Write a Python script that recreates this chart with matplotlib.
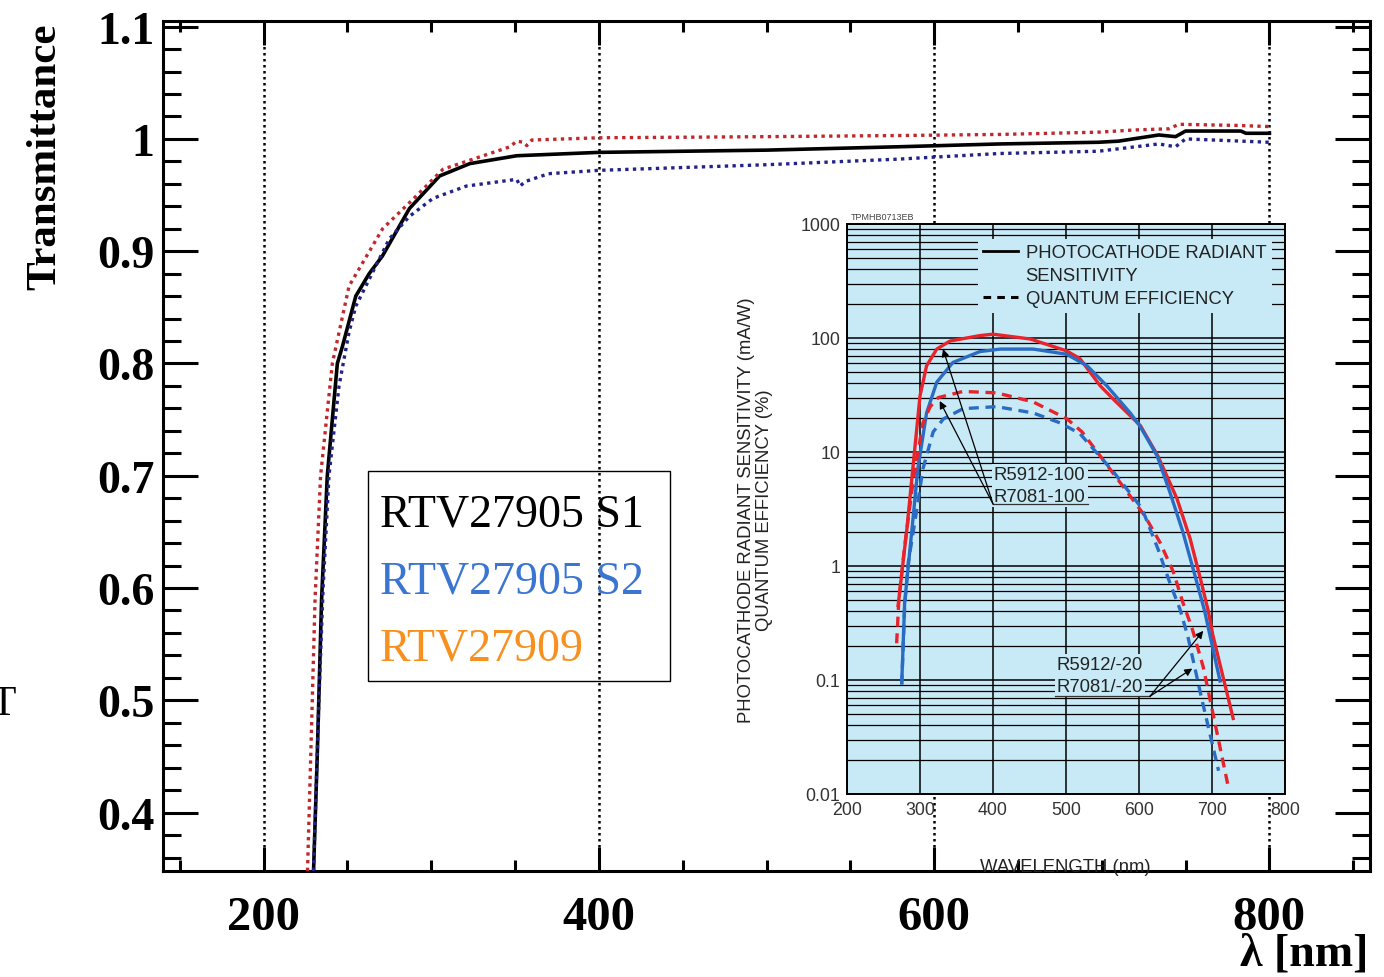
import matplotlib
matplotlib.use("Agg")
import matplotlib.pyplot as plt
from matplotlib.lines import Line2D
from matplotlib.patches import Rectangle
from matplotlib.ticker import MultipleLocator, FixedLocator, FuncFormatter, LogLocator, NullFormatter

# ---- main plot: transmittance curves ----
s1_wl = [229.8, 232, 234.6, 238, 244, 247, 255, 263, 271, 287, 305, 323, 351, 400, 500,
         579, 639, 698, 710, 734, 744, 750, 783, 786, 800]
s1_t = [0.348, 0.45, 0.59, 0.70, 0.80, 0.815, 0.86, 0.88, 0.896, 0.938, 0.967, 0.978, 0.985,
        0.988, 0.990, 0.993, 0.9955, 0.997, 0.998, 1.0035, 1.002, 1.007, 1.007, 1.005, 1.005]

s2_wl = [229.8, 233, 235.5, 239, 245, 251, 255, 275, 287, 301, 321, 351, 353, 356, 370, 400,
         500, 579, 639, 698, 734, 744, 750, 800]
s2_t = [0.348, 0.50, 0.60, 0.70, 0.78, 0.828, 0.851, 0.911, 0.931, 0.947, 0.958, 0.964, 0.958,
        0.962, 0.969, 0.972, 0.977, 0.982, 0.987, 0.989, 0.9955, 0.993, 1.0, 0.997]

rtv09_wl = [226.2, 228.5, 230.7, 234, 241, 251, 271, 291, 307, 331, 347, 351, 355, 357, 360,
            400, 500, 579, 640, 698, 720, 740, 746, 780, 800]
rtv09_t = [0.348, 0.47, 0.59, 0.70, 0.80, 0.869, 0.92, 0.949, 0.973, 0.985, 0.993, 0.998, 0.997,
           0.994, 0.999, 1.001, 1.002, 1.003, 1.004, 1.006, 1.008, 1.009, 1.013, 1.012, 1.011]

legend_labels = ["RTV27905 S1", "RTV27905 S2", "RTV27909"]
legend_colors = ["#000000", "#3a75d2", "#f7901e"]

# ---- inset: Hamamatsu spectral response ----
red_sens_wl = [270, 282, 291, 300, 309, 323, 341, 382, 400, 451, 501, 519, 547, 565, 602, 626,
               652, 670, 684, 695, 701, 729]
red_sens = [0.45, 2.1, 8.1, 31, 57, 80, 94, 105, 108, 98, 77, 66, 38, 29, 17, 9.2,
            3.9, 1.74, 0.78, 0.40, 0.25, 0.046]
blue_sens_wl = [275, 279, 289, 297, 309, 323, 345, 382, 410, 455, 501, 529, 556, 588, 601, 625,
                642, 660, 677, 690, 697, 711]
blue_sens = [0.095, 0.48, 2.1, 7.1, 22, 41, 61, 76, 80, 80, 72, 57, 38, 22, 17, 9.2,
             4.5, 2.0, 0.81, 0.40, 0.25, 0.098]
red_qe_wl = [268, 271, 279, 291, 304, 314, 325, 359, 405, 455, 501, 522, 547, 578, 608, 629,
             647, 660, 673, 688, 701, 722]
red_qe = [0.21, 0.5, 1.5, 5.8, 18, 25, 30, 34, 33, 27.5, 19.6, 15, 9.2, 5.0, 2.75, 1.6,
          0.89, 0.48, 0.28, 0.13, 0.052, 0.0118]
blue_qe_wl = [275, 279, 284, 295, 304, 318, 332, 359, 405, 455, 492, 519, 565, 604, 626, 642,
              656, 667, 686, 709]
blue_qe = [0.091, 0.45, 1.08, 2.95, 7.1, 15, 19.5, 24, 25, 22, 18, 14.5, 6.7, 3.2, 1.41, 0.72,
           0.42, 0.24, 0.068, 0.016]

W, H = 1384, 978
fig = plt.figure(figsize=(W / 100, H / 100), dpi=100)
serif = "Liberation Serif"
sans = "Liberation Sans"

ax = fig.add_axes([163 / W, 1 - 872 / H, 1207 / W, 850 / H])
ax.set_xlim(140, 860)
ax.set_ylim(0.348, 1.105)
ax.plot(s1_wl, s1_t, color="black", lw=2.6, zorder=3)
ax.plot(s2_wl, s2_t, color="#22228a", lw=2.4, ls=(0, (1, 1.3)), zorder=3)
ax.plot(rtv09_wl, rtv09_t, color="#c0282d", lw=2.4, ls=(0, (1, 1.3)), zorder=3)

ax.xaxis.set_major_locator(FixedLocator([200, 400, 600, 800]))
ax.xaxis.set_minor_locator(MultipleLocator(50))
ax.yaxis.set_major_locator(MultipleLocator(0.1))
ax.yaxis.set_minor_locator(MultipleLocator(0.02))
ax.yaxis.set_major_formatter(FuncFormatter(lambda v, p: f"{v:g}"))
ax.grid(axis="x", which="major", color="black", lw=1.8, ls=(0, (1, 1.4)))
ax.tick_params(which="both", direction="in", top=True, right=True, width=2.2)
ax.tick_params(axis="x", which="major", length=17, pad=17, labelsize=35)
ax.tick_params(axis="x", which="minor", length=8)
ax.tick_params(axis="y", which="major", length=25, pad=6, labelsize=33)
ax.tick_params(axis="y", which="minor", length=13)
for lab in ax.get_xticklabels() + ax.get_yticklabels():
    lab.set_fontfamily(serif)
    lab.set_fontweight("bold")
for sp in ax.spines.values():
    sp.set_linewidth(2.2)

# text legend box
ax.add_patch(Rectangle((0.1698, 0.2235), 0.250, 0.247, transform=ax.transAxes,
                       fill=False, ec="black", lw=1.0, zorder=4))
for lab, col, yb in zip(legend_labels, legend_colors, [0.4059, 0.3282, 0.2494]):
    ax.text(0.1798, yb, lab, color=col, transform=ax.transAxes, fontsize=33,
            family=serif, va="baseline", ha="left", zorder=5)

fig.text(45 / W, 1 - 157 / H, "Transmittance", rotation=90, ha="center", va="center",
         fontsize=31, family=serif, fontweight="bold")
fig.text(1368 / W, 1 - 966 / H, "λ [nm]", ha="right", va="baseline",
         fontsize=33, family=serif, fontweight="bold")
fig.text(3 / W, 1 - 705 / H, "T", ha="center", va="center", fontsize=30, family=serif)

# ---- inset ----
bg = "#c8eaf6"
fs_in = 13.3
axi = fig.add_axes([847 / W, 1 - 795 / H, 438 / W, 570 / H], facecolor=bg)
axi.set_yscale("log")
axi.set_xlim(200, 800)
axi.set_ylim(0.01, 1000)
axi.set_xticks(range(200, 801, 100))
axi.yaxis.set_major_locator(LogLocator(base=10, numticks=10))
axi.yaxis.set_minor_locator(LogLocator(base=10, subs=range(2, 10), numticks=50))
axi.yaxis.set_minor_formatter(NullFormatter())
axi.yaxis.set_major_formatter(FuncFormatter(lambda v, p: f"{v:g}"))
axi.grid(which="major", color="black", lw=1.1)
axi.grid(which="minor", axis="y", color="black", lw=0.9)
axi.tick_params(which="both", length=0, labelsize=12.8, labelcolor="#333333", pad=5)
for lab in axi.get_xticklabels() + axi.get_yticklabels():
    lab.set_fontfamily(sans)
for sp in axi.spines.values():
    sp.set_linewidth(1.4)

axi.plot(red_sens_wl, red_sens, color="#e8232b", lw=2.4, zorder=3)
axi.plot(blue_sens_wl, blue_sens, color="#2a6cc4", lw=2.4, zorder=3)
axi.plot(red_qe_wl, red_qe, color="#e8232b", lw=2.4, ls=(0, (3, 2)), zorder=3)
axi.plot(blue_qe_wl, blue_qe, color="#2a6cc4", lw=2.4, ls=(0, (3, 2)), zorder=3)

handles = [Line2D([], [], color="black", lw=2),
           Line2D([], [], color="none"),
           Line2D([], [], color="black", lw=2.2, ls=(0, (2.5, 2)))]
leg = axi.legend(handles, ["PHOTOCATHODE RADIANT", "SENSITIVITY", "QUANTUM EFFICIENCY"],
                 loc="upper right", bbox_to_anchor=(0.97, 0.974), borderaxespad=0,
                 frameon=True, facecolor=bg, edgecolor="none", framealpha=1, fancybox=False,
                 prop={"family": sans, "size": fs_in}, handlelength=1.9, handletextpad=0.4,
                 labelspacing=0.32, borderpad=0.3)
for t in leg.get_texts():
    t.set_color("#222222")

# part-number annotations
ann_kw = dict(arrowprops=dict(arrowstyle="-|>", color="black", lw=0.9, mutation_scale=11,
                              shrinkA=0, shrinkB=0), zorder=4)
axi.text(464, 5.1, "R5912-100\nR7081-100", ha="center", va="center", fontsize=fs_in,
         family=sans, color="#222222", linespacing=1.4, zorder=4,
         bbox=dict(fc=bg, ec="none", pad=1.5))
axi.plot([400, 530], [3.5, 3.5], color="#333333", lw=0.9, zorder=4)
axi.annotate("", xy=(331.5, 80), xytext=(400, 3.5), **ann_kw)
axi.annotate("", xy=(327, 28), xytext=(400, 3.5), **ann_kw)

axi.text(546.6, 0.11, "R5912/-20\nR7081/-20", ha="center", va="center", fontsize=fs_in,
         family=sans, color="#222222", linespacing=1.4, zorder=4,
         bbox=dict(fc=bg, ec="none", pad=1.5))
axi.plot([485, 615], [0.072, 0.072], color="#333333", lw=0.9, zorder=4)
axi.annotate("", xy=(688, 0.27), xytext=(615, 0.072), **ann_kw)
axi.annotate("", xy=(673, 0.126), xytext=(615, 0.072), **ann_kw)

axi.set_ylabel("PHOTOCATHODE RADIANT SENSITIVITY (mA/W)\nQUANTUM EFFICIENCY (%)",
               fontsize=fs_in, family=sans, color="#222222", linespacing=1.1)
axi.yaxis.set_label_coords(-0.169, 0.5)
axi.set_xlabel("WAVELENGTH (nm)", fontsize=fs_in, family=sans, color="#222222")
axi.xaxis.set_label_coords(0.498, -0.112)
axi.text(0.08, 1.014, "TPMHB0713EB", transform=axi.transAxes, fontsize=6.5, family=sans,
         color="#444444", ha="center", va="center")

fig.savefig("out.png", dpi=100)
